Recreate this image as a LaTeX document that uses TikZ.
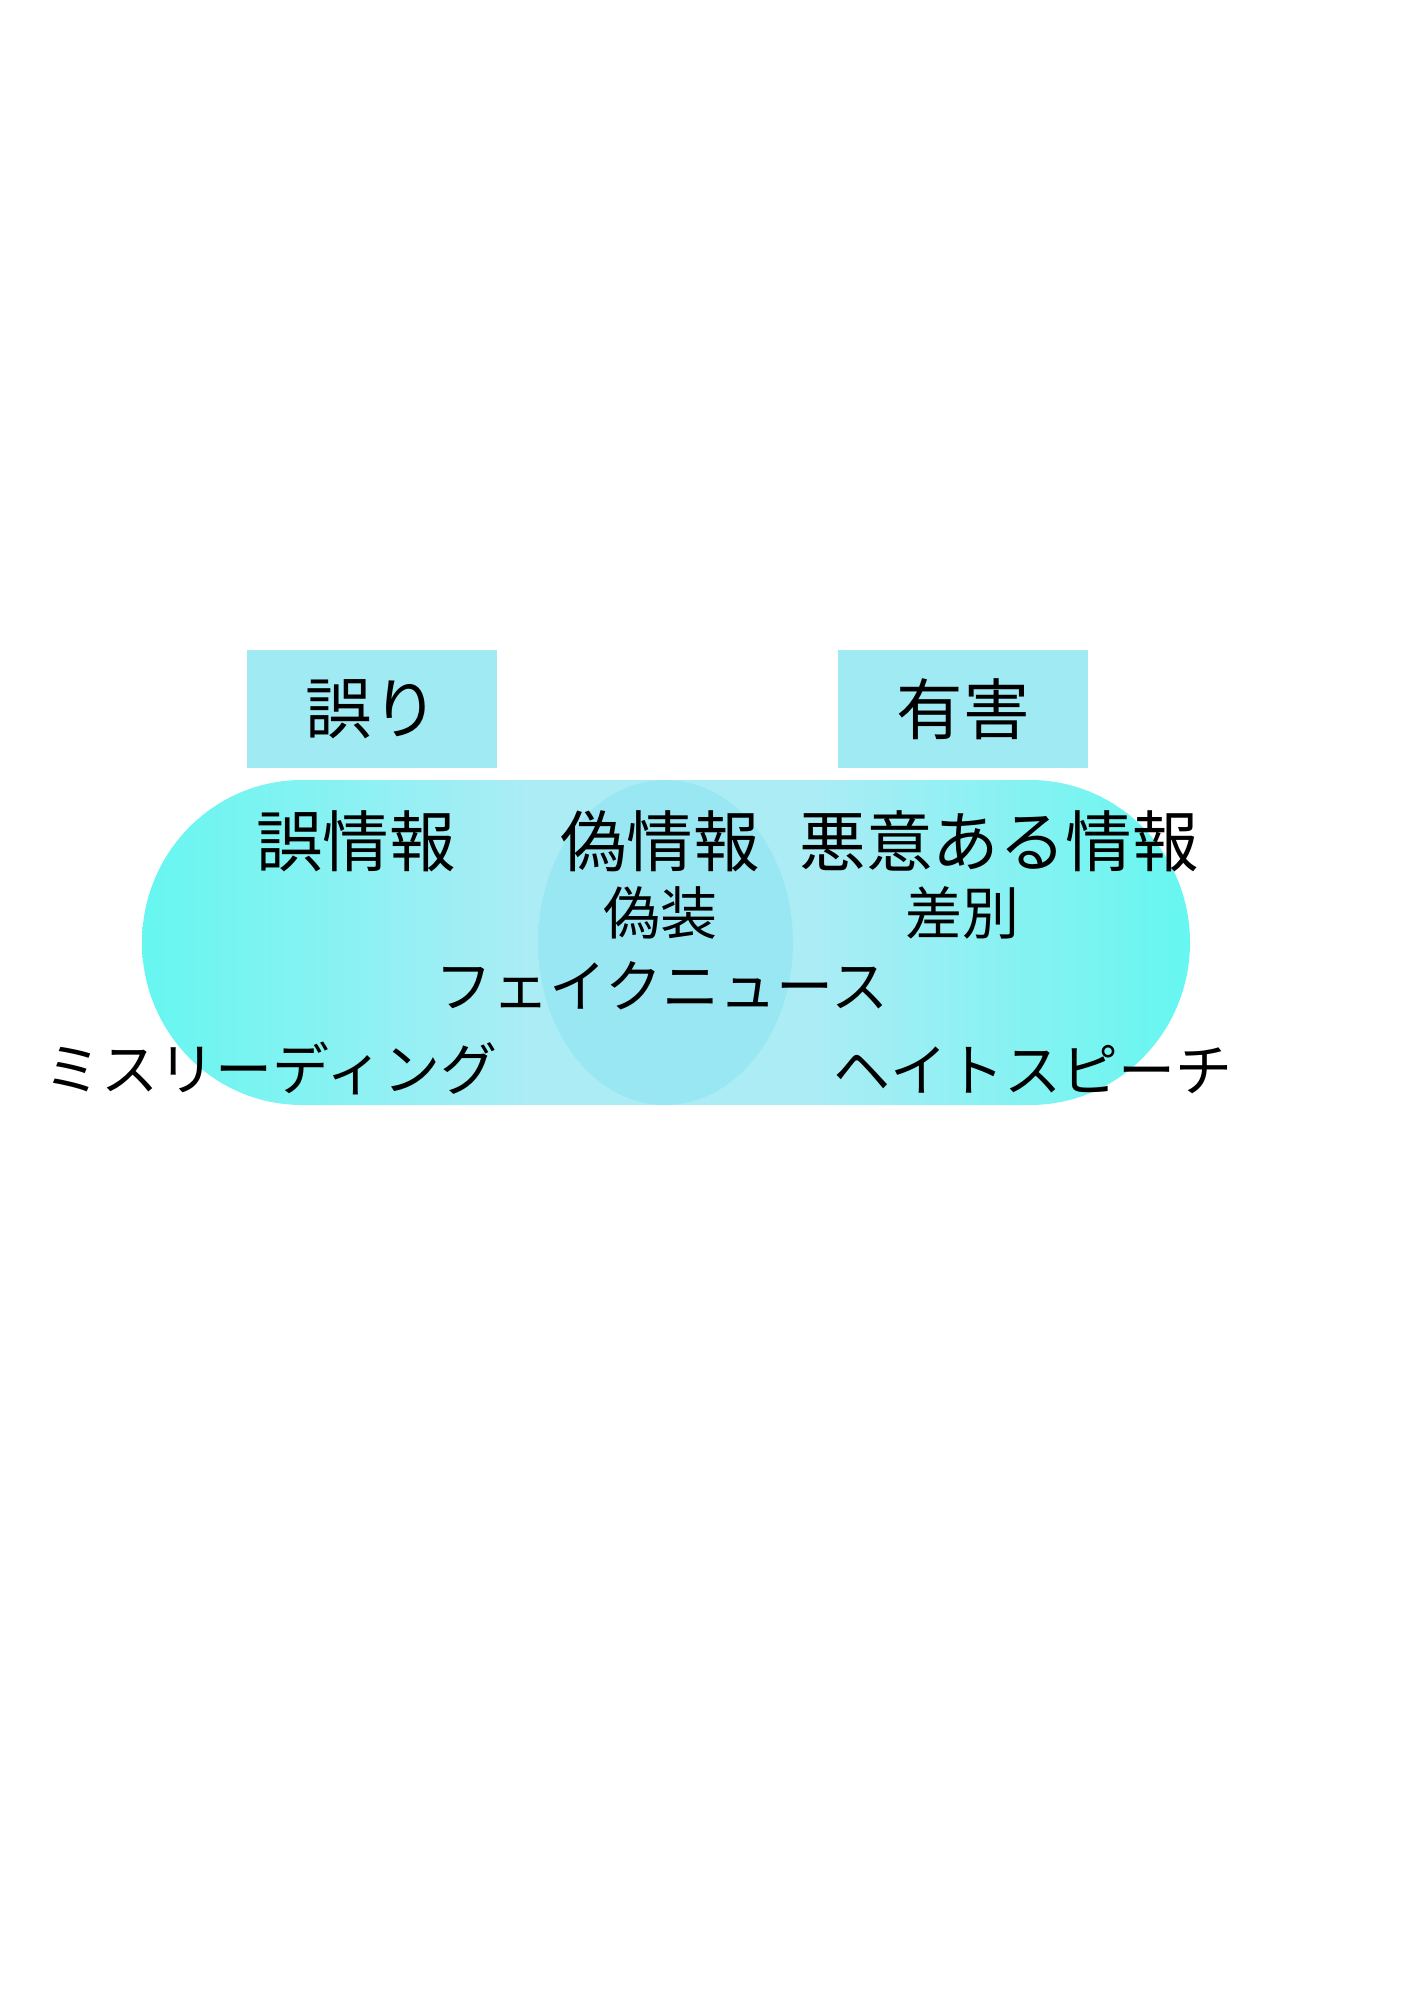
\documentclass[tikz,border=0pt]{standalone}
\usepackage{fontspec}
\newfontfamily\jpfont{Noto Sans CJK JP}
\usetikzlibrary{math}
\definecolor{ccyan}{rgb}{0.212, 0.957, 0.922}
\definecolor{clight}{rgb}{0.573, 0.902, 0.949}
\definecolor{cbox}{rgb}{0.627, 0.918, 0.957}
\pgfdeclarehorizontalshading{leftpill}{100bp}{color(0bp)=(ccyan); color(25bp)=(ccyan); color(55bp)=(clight); color(100bp)=(clight)}
\pgfdeclarehorizontalshading{rightpill}{100bp}{color(0bp)=(clight); color(46bp)=(clight); color(75bp)=(ccyan); color(100bp)=(ccyan)}
\begin{document}
\begin{tikzpicture}[x=0.421pt, y=-0.421pt,
  bigtext/.style={font=\jpfont\fontsize{28}{34}\selectfont},
  smalltext/.style={font=\jpfont\fontsize{24}{29}\selectfont}]
  \tikzmath{
    \ytop = 780;
    \ybot = 1105;
    \ry = (\ybot - \ytop)/2;
    \xmid = 665;
  }
  \useasboundingbox (0, 0) rectangle (1414, 2000);

  % category boxes
  \fill [cbox] (247, 650) rectangle (497, 768);
  \fill [cbox] (838, 650) rectangle (1088, 768);

  % left and right pills
  \shade [shading=leftpill, opacity=0.76]
    (302, \ytop) -- (\xmid, \ytop)
    arc [start angle=-90, end angle=90, x radius=128, y radius=\ry]
    -- (302, \ybot)
    arc [start angle=90, end angle=270, x radius=160, y radius=\ry] -- cycle;
  \shade [shading=rightpill, opacity=0.76]
    (\xmid, \ytop) -- (1030, \ytop)
    arc [start angle=-90, end angle=90, x radius=160, y radius=\ry]
    -- (\xmid, \ybot)
    arc [start angle=90, end angle=270, x radius=127, y radius=\ry] -- cycle;

  % box labels
  \node [bigtext] (ayamari) at (372, 709) {誤り};
  \node [bigtext] (yuugai) at (963, 709) {有害};

  % labels inside the pills
  \node [bigtext] (gojouhou) at (356, 841) {誤情報};
  \node [bigtext] (gijouhou) at (660, 841) {偽情報};
  \node [bigtext] (akui) at (999, 841) {悪意ある情報};
  \node [smalltext] (gisou) at (660, 913) {偽装};
  \node [smalltext] (sabetsu) at (962, 913) {差別};
  \node [smalltext] (fake) at (662, 986) {フェイクニュース};
  \node [smalltext] (misleading) at (271, 1068) {ミスリーディング};
  \node [smalltext] (hate) at (1033, 1070) {ヘイトスピーチ};
\end{tikzpicture}
\end{document}
